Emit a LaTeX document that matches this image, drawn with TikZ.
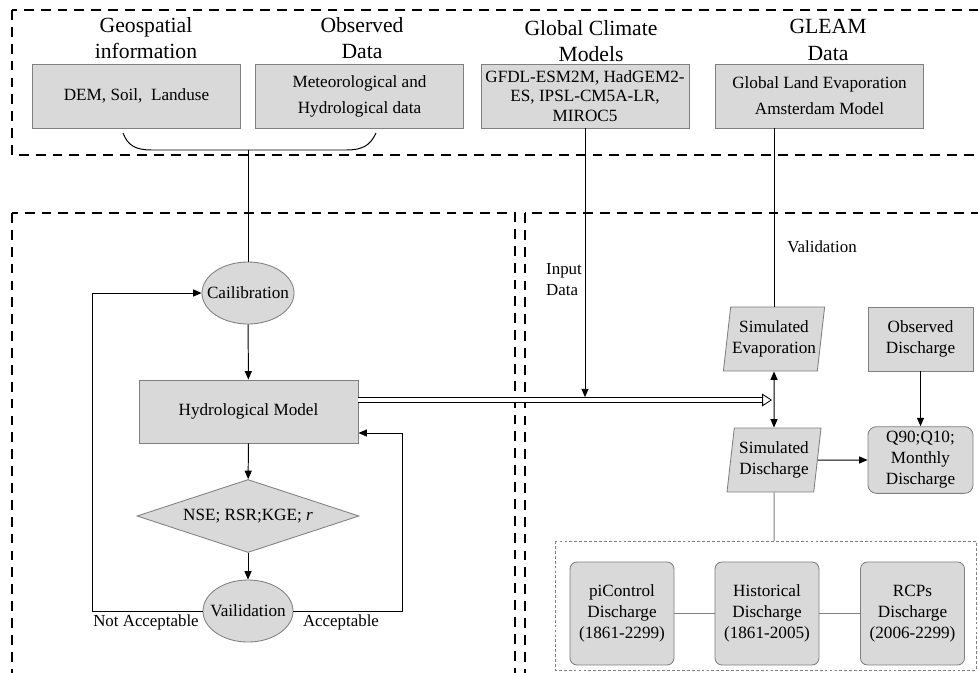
\documentclass[tikz,border=0pt]{standalone}
\usepackage{fontspec}
\setmainfont{Liberation Serif}
\usetikzlibrary{arrows.meta, shapes.geometric, calc}

\definecolor{boxfill}{HTML}{D9D9D9}
\definecolor{boxline}{HTML}{7F7F7F}

\tikzset{
    panel/.style={line width=1.3pt, dash pattern=on 7pt off 5pt},
    runpanel/.style={draw=boxline, line width=0.6pt, dash pattern=on 2pt off 1.5pt},
    title/.style={align=center, font=\fontsize{15.4}{19}\selectfont},
    lbl/.style={font=\fontsize{12}{15}\selectfont},
    databox/.style={draw=boxline, fill=boxfill, line width=0.6pt, minimum width=5.2cm, minimum height=1.6cm, inner xsep=2pt, align=center, font=\fontsize{12.2}{15}\selectfont},
    smallbox/.style={databox, minimum width=2.625cm},
    runbox/.style={databox, rounded corners=5pt, minimum width=2.6cm, minimum height=2.575cm},
    oval/.style={ellipse, draw=boxline, fill=boxfill, line width=0.6pt, minimum width=2.25cm, minimum height=1.55cm, inner xsep=-6pt, inner ysep=0pt, font=\fontsize{12.2}{15}\selectfont},
    check/.style={diamond, draw=boxline, fill=boxfill, line width=0.6pt, aspect=3, inner sep=0pt, minimum width=5.55cm, minimum height=1.825cm, font=\fontsize{12.2}{15}\selectfont},
    slanted/.style={trapezium, trapezium left angle=81, trapezium right angle=99, trapezium stretches body, draw=boxline, fill=boxfill, line width=0.6pt, minimum width=2.35cm, minimum height=1.6cm, inner xsep=1pt, align=center, font=\fontsize{12.2}{15}\selectfont},
    arr/.style={line width=0.7pt, -{Triangle[length=6pt, width=5pt]}},
    biarr/.style={line width=0.7pt, {Triangle[length=6pt, width=5pt]}-{Triangle[length=6pt, width=5pt]}},
    flow/.style={line width=0.6pt, double, double distance=2.4pt, -{Triangle[open, length=7pt, width=9pt]}}
}

\begin{document}
\begin{tikzpicture}[x=0.025cm, y=-0.025cm]
    \useasboundingbox (0,0) rectangle (978,672);
    \clip (0,0) rectangle (978,672);

    % Dashed panels
    \draw[panel] (12,10) rectangle (1000,155);
    \draw[panel] (12,213) rectangle (515,700);
    \draw[panel] (525,213) rectangle (1000,700);
    \draw[runpanel] (555,541) rectangle (976,670);

    % Input data
    \node[title] (geot) at (146,38) {Geospatial\\information};
    \node[title] (obst) at (362,38) {Observed\\Data};
    \node[title] (gcmt) at (591,41) {Global Climate\\Models};
    \node[title] (gleamt) at (828,40) {GLEAM\\Data};

    \node[databox] (geo) at (136.5,96) {DEM, Soil,~ Landuse};
    \node[databox] (obs) at (359.5,96) {Meteorological and\\[3.5pt]Hydrological data};
    \node[databox, font=\fontsize{12.2}{13.8}\selectfont] (gcm) at (585,96) {GFDL-ESM2M, HadGEM2-\\ES, IPSL-CM5A-LR,\\MIROC5};
    \node[databox] (gleam) at (819.5,96) {Global Land Evaporation\\[3.5pt]Amsterdam Model};

    % Bracket joining the two inputs
    \coordinate (merge) at (248,150);
    \draw[line width=0.7pt] (123,133) .. controls (128,146) and (136,150) .. (152,150) -- (346,150) .. controls (362,150) and (370,146) .. (376,133);

    % Calibration loop
    \node[oval] (cal) at (248,293) {Cailibration};
    \node[databox, minimum width=5.475cm, minimum height=1.575cm] (hydro) at (248.5,411.5) {Hydrological Model};
    \node[check] (crit) at (248,516) {NSE; RSR;KGE; \textit{r}};
    \node[oval] (val) at (248,611) {Vailidation};
    \node[lbl] (notacc) at (146,622) {Not Acceptable};
    \node[lbl] (acc) at (341,622) {Acceptable};

    \draw[line width=0.7pt] (merge) -- (cal.north);
    \draw[arr] (cal) -- (hydro);
    \draw[arr] (hydro) -- (crit);
    \draw[arr] (crit) -- (val);
    \draw[arr] (val.west) -- ++(-110,0) |- (cal.west);
    \coordinate (back) at (402,433);
    \draw[arr] (val.east) -| (back) -- (back -| hydro.east);

    % Simulation
    \node[slanted] (simevap) at (774,339) {Simulated\\Evaporation};
    \node[slanted] (simdis) at (774,460) {Simulated\\Discharge};
    \node[smallbox] (obsdis) at (920.5,339) {Observed\\Discharge};
    \node[smallbox, rounded corners=6pt] (stats) at (920.5,460) {Q90;Q10;\\Monthly\\Discharge};
    \node[lbl, align=left] (inlbl) at (564,280) {Input\\Data};
    \node[lbl] (vallbl) at (822,247) {Validation};

    \coordinate (flowend) at (772,400);
    \draw[flow] (hydro.east |- flowend) -- (flowend);
    \draw[arr, shorten >=2pt] (gcm.south) -- (gcm.south |- flowend);
    \draw[line width=0.7pt] (simevap.north |- gleam.south) -- (simevap.north);
    \draw[biarr] (simevap.south) -- (simdis.north);
    \draw[arr] (simdis.east) -- (stats.west);
    \draw[arr] (obsdis.south) -- (stats.north);

    % Discharge runs
    \node[runbox] (pic) at (622,613.5) {piControl\\Discharge\\(1861-2299)};
    \node[runbox] (hist) at (767,613.5) {Historical\\Discharge\\(1861-2005)};
    \node[runbox] (rcp) at (912.5,613.5) {RCPs\\Discharge\\(2006-2299)};
    \coordinate (runs) at (774,541);
    \draw[line width=0.7pt, boxline] (simdis.south) -- (runs);
    \draw[line width=0.7pt, boxline] (pic) -- (hist);
    \draw[line width=0.7pt, boxline] (hist) -- (rcp);
\end{tikzpicture}
\end{document}
